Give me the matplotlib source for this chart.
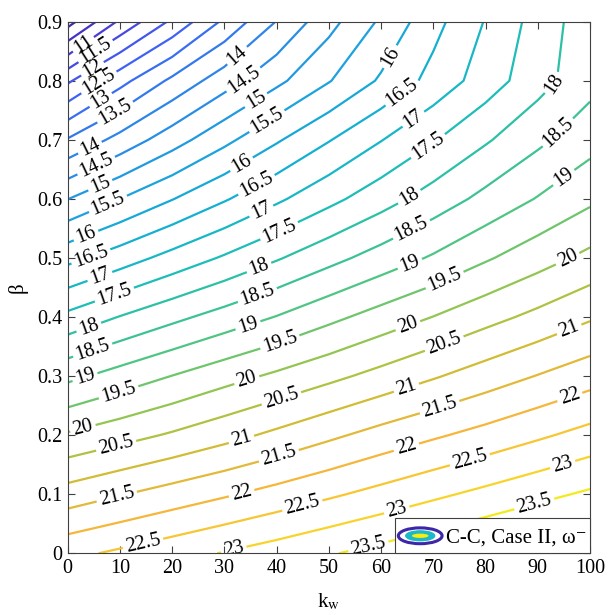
import numpy as np
import matplotlib.pyplot as plt
from matplotlib.colors import LinearSegmentedColormap
from matplotlib.legend_handler import HandlerBase
from matplotlib.patches import Ellipse
from matplotlib.ticker import FuncFormatter

plt.rcParams['font.family'] = ['Liberation Serif', 'DejaVu Serif']
plt.rcParams['mathtext.fontset'] = 'stix'

# grid: Winkler stiffness k_w (columns) and beta (rows)
K_W = [0, 10, 20, 30, 40, 50, 60, 70, 80, 90, 100]
BETA = [0.0, 0.1, 0.2, 0.3, 0.4, 0.5, 0.6, 0.7, 0.8, 0.9]
OMEGA = [
    [22.37, 22.59, 22.81, 23.03, 23.24, 23.46, 23.67, 23.88, 24.09, 24.30, 24.50],
    [21.22, 21.47, 21.71, 21.94, 22.18, 22.42, 22.66, 22.90, 23.13, 23.36, 23.58],
    [20.06, 20.31, 20.56, 20.83, 21.11, 21.40, 21.68, 21.93, 22.17, 22.42, 22.67],
    [18.87, 19.20, 19.51, 19.81, 20.09, 20.37, 20.66, 20.95, 21.24, 21.52, 21.79],
    [17.63, 18.02, 18.37, 18.70, 19.02, 19.37, 19.70, 20.01, 20.33, 20.63, 20.94],
    [16.35, 16.76, 17.17, 17.56, 17.95, 18.34, 18.71, 19.06, 19.44, 19.79, 20.13],
    [14.99, 15.50, 15.98, 16.45, 16.91, 17.36, 17.79, 18.22, 18.64, 19.03, 19.40],
    [13.54, 14.17, 14.78, 15.37, 15.94, 16.47, 16.98, 17.46, 17.94, 18.39, 18.81],
    [11.92, 12.83, 13.61, 14.28, 14.88, 15.47, 16.07, 16.67, 17.24, 17.81, 18.33],
    [9.80, 11.09, 12.10, 13.10, 14.02, 14.83, 15.58, 16.33, 17.03, 17.70, 18.30],
]
LEVELS = np.arange(10, 24.01, 0.5)

# where the inline labels sit (k_w, beta)
LABEL_SPOTS = [
    (3.0, 0.862), (5.2, 0.852), (4.9, 0.818), (6.5, 0.790), (6.5, 0.765), (9.4, 0.742),
    (4.3, 0.686), (5.9, 0.648), (6.5, 0.618), (7.8, 0.590), (3.6, 0.536), (4.6, 0.499),
    (6.2, 0.468), (9.1, 0.434), (4.0, 0.384), (4.9, 0.341), (3.3, 0.299), (9.7, 0.274),
    (3.0, 0.209), (9.4, 0.178), (9.4, 0.096), (14.5, 0.014),
    (33.0, 0.837), (34.0, 0.798), (36.2, 0.765), (38.4, 0.728), (33.6, 0.654), (36.5, 0.618),
    (37.2, 0.577), (40.7, 0.542), (36.8, 0.480), (36.2, 0.440), (34.6, 0.384), (40.7, 0.356),
    (34.3, 0.293), (41.0, 0.260), (33.3, 0.192), (40.3, 0.169), (33.3, 0.102), (44.9, 0.082),
    (31.8, 0.006),
    (61.7, 0.841), (64.3, 0.776), (66.5, 0.731), (69.7, 0.680), (65.6, 0.601), (65.9, 0.547),
    (65.6, 0.488), (72.0, 0.466), (65.2, 0.384), (72.3, 0.350), (64.9, 0.279), (71.3, 0.245),
    (64.9, 0.178), (77.1, 0.155), (63.0, 0.073), (57.6, 0.011),
    (93.0, 0.796), (93.9, 0.712), (95.3, 0.632), (95.8, 0.497), (96.2, 0.375), (96.2, 0.263),
    (94.9, 0.146), (89.5, 0.078),
]

# parula-like map, stops matched to the line colours of the chart
PARULA = [(0.00, '#3e26a8'), (0.08, '#4a3ed6'), (0.18, '#3f62f5'), (0.29, '#2d86e8'),
          (0.37, '#1e9edf'), (0.46, '#13b1d0'), (0.52, '#1abcbb'), (0.56, '#2dc0a4'),
          (0.63, '#50c583'), (0.69, '#8ec653'), (0.76, '#cdbd35'), (0.83, '#f5b53a'),
          (0.90, '#f8d52a'), (0.93, '#f4e81c'), (1.00, '#f9fb0e')]
parula = LinearSegmentedColormap.from_list('parula', PARULA)


class ContourIcon(HandlerBase):
    def create_artists(self, legend, orig_handle, xdescent, ydescent,
                       width, height, fontsize, trans):
        cx = width / 2 - xdescent
        cy = height / 2 - ydescent
        outer = Ellipse((cx, cy), width, height * 0.55, facecolor='white',
                        edgecolor='#3e26a8', lw=2.2, transform=trans)
        mid = Ellipse((cx, cy), width * 0.66, height * 0.34, facecolor='#1cb8c8',
                      edgecolor='#1cb8c8', lw=1, transform=trans)
        inner = Ellipse((cx, cy), width * 0.38, height * 0.15, facecolor='#f5ee10',
                        edgecolor='none', transform=trans)
        return [outer, mid, inner]


Z = np.array(OMEGA)

fig = plt.figure(figsize=(6.08, 6.15), dpi=100)
ax = fig.add_axes([0.1113, 0.1003, 0.8591, 0.8644])

cs = ax.contour(K_W, BETA, Z, levels=LEVELS, cmap=parula,
                vmin=Z.min(), vmax=Z.max(), linewidths=1.6)
ax.clabel(cs, manual=LABEL_SPOTS, inline=True, inline_spacing=3,
          fmt='%g', fontsize=14.5, colors='k')

ax.set_xlim(0, 100)
ax.set_ylim(0, 0.9)
ax.set_xticks(range(0, 101, 10))
ax.set_yticks(np.arange(0, 0.91, 0.1))
ax.yaxis.set_major_formatter(FuncFormatter(lambda v, p: '%g' % round(v, 2)))
ax.tick_params(direction='in', top=True, right=True, length=5, width=0.8,
               labelsize=14.5, pad=4, color='#404040')
for s in ax.spines.values():
    s.set_color('#404040')
    s.set_linewidth(0.8)

ax.set_xlabel(r'k$_{\rm w}$', fontsize=15, labelpad=10)
ax.set_ylabel('β', fontsize=15, labelpad=7)

proxy = Ellipse((0, 0), 1, 1)
leg = ax.legend([proxy], ['C-C, Case II, ω⁻'], handler_map={Ellipse: ContourIcon()},
                loc='lower right', borderaxespad=0, fancybox=False, framealpha=1,
                edgecolor='#404040', handlelength=2.1, handleheight=1.75,
                handletextpad=0.2, borderpad=0.15, fontsize=15)
leg.get_frame().set_linewidth(0.8)

fig.savefig('out.png', dpi=100)
